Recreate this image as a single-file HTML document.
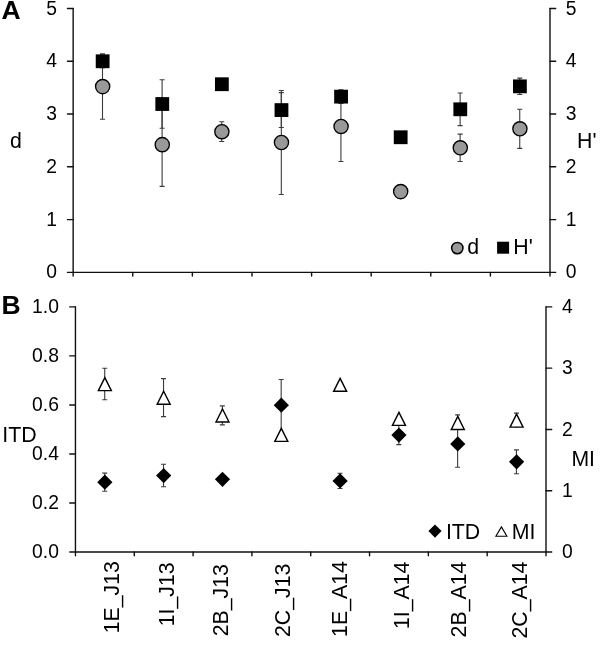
<!DOCTYPE html>
<html lang="en"><head><meta charset="utf-8"><title>Figure</title>
<style>html,body{margin:0;padding:0;background:#fff}svg{display:block}text{font-family:"Liberation Sans", sans-serif;fill:#000}</style>
</head><body>
<svg width="600" height="645" viewBox="0 0 600 645">
<rect width="600" height="645" fill="#fff"/>
<g stroke="#111" stroke-width="1.4" fill="none" stroke-linecap="round" stroke-linejoin="round">
<path d="M73.15 8.50V272.35M550.0 8.50V272.35M67.45 272.35H555.70"/>
<path d="M67.45 219.58H73.15M550.0 219.58H555.70M67.45 166.81H73.15M550.0 166.81H555.70M67.45 114.04H73.15M550.0 114.04H555.70M67.45 61.27H73.15M550.0 61.27H555.70M67.45 8.50H73.15M550.0 8.50H555.70M73.15 272.35V276.05M132.76 272.35V276.05M192.36 272.35V276.05M251.97 272.35V276.05M311.58 272.35V276.05M371.18 272.35V276.05M430.79 272.35V276.05M490.39 272.35V276.05M550.00 272.35V276.05"/>
</g>
<g font-size="19.3">
<text x="56.9" y="278.45" text-anchor="end">0</text>
<text x="565.8" y="278.45">0</text>
<text x="56.9" y="225.68" text-anchor="end">1</text>
<text x="565.8" y="225.68">1</text>
<text x="56.9" y="172.91" text-anchor="end">2</text>
<text x="565.8" y="172.91">2</text>
<text x="56.9" y="120.14" text-anchor="end">3</text>
<text x="565.8" y="120.14">3</text>
<text x="56.9" y="67.37" text-anchor="end">4</text>
<text x="565.8" y="67.37">4</text>
<text x="56.9" y="14.60" text-anchor="end">5</text>
<text x="565.8" y="14.60">5</text>
</g>
<text x="1.6" y="18.9" font-size="26.5" font-weight="bold">A</text>
<text x="10.1" y="147.8" font-size="21.3">d</text>
<text x="577.0" y="147.7" font-size="21.3">H'</text>
<path d="M102.50 53.88V119.32M100.00 53.88H105.00M100.00 119.32H105.00" stroke="#3c3c3c" stroke-width="1.1" fill="none"/>
<path d="M102.50 54.94V67.60M100.00 54.94H105.00M100.00 67.60H105.00" stroke="#3c3c3c" stroke-width="1.1" fill="none"/>
<path d="M162.11 102.96V186.33M159.61 102.96H164.61M159.61 186.33H164.61" stroke="#3c3c3c" stroke-width="1.1" fill="none"/>
<path d="M162.11 79.74V128.29M159.61 79.74H164.61M159.61 128.29H164.61" stroke="#3c3c3c" stroke-width="1.1" fill="none"/>
<path d="M221.72 121.80V141.53M219.22 121.80H224.22M219.22 141.53H224.22" stroke="#3c3c3c" stroke-width="1.1" fill="none"/>
<path d="M281.32 90.56V194.51M278.82 90.56H283.82M278.82 194.51H283.82" stroke="#3c3c3c" stroke-width="1.1" fill="none"/>
<path d="M281.32 92.67V127.50M278.82 92.67H283.82M278.82 127.50H283.82" stroke="#3c3c3c" stroke-width="1.1" fill="none"/>
<path d="M340.93 91.45V161.43M338.43 91.45H343.43M338.43 161.43H343.43" stroke="#3c3c3c" stroke-width="1.1" fill="none"/>
<path d="M340.93 89.77V103.49M338.43 89.77H343.43M338.43 103.49H343.43" stroke="#3c3c3c" stroke-width="1.1" fill="none"/>
<path d="M460.14 134.09V161.53M457.64 134.09H462.64M457.64 161.53H462.64" stroke="#3c3c3c" stroke-width="1.1" fill="none"/>
<path d="M460.14 92.93V125.65M457.64 92.93H462.64M457.64 125.65H462.64" stroke="#3c3c3c" stroke-width="1.1" fill="none"/>
<path d="M519.75 109.29V148.34M517.25 109.29H522.25M517.25 148.34H522.25" stroke="#3c3c3c" stroke-width="1.1" fill="none"/>
<path d="M519.75 78.16V94.52M517.25 78.16H522.25M517.25 94.52H522.25" stroke="#3c3c3c" stroke-width="1.1" fill="none"/>
<circle cx="102.65" cy="86.60" r="7.1" fill="#999" stroke="#000" stroke-width="1.35"/>
<rect x="95.75" y="54.37" width="13.8" height="13.8" fill="#000"/>
<circle cx="162.26" cy="144.65" r="7.1" fill="#999" stroke="#000" stroke-width="1.35"/>
<rect x="155.36" y="97.11" width="13.8" height="13.8" fill="#000"/>
<circle cx="221.87" cy="131.67" r="7.1" fill="#999" stroke="#000" stroke-width="1.35"/>
<rect x="214.97" y="77.32" width="13.8" height="13.8" fill="#000"/>
<circle cx="281.47" cy="142.54" r="7.1" fill="#999" stroke="#000" stroke-width="1.35"/>
<rect x="274.57" y="103.18" width="13.8" height="13.8" fill="#000"/>
<circle cx="341.08" cy="126.44" r="7.1" fill="#999" stroke="#000" stroke-width="1.35"/>
<rect x="334.18" y="89.73" width="13.8" height="13.8" fill="#000"/>
<circle cx="400.68" cy="191.61" r="7.1" fill="#999" stroke="#000" stroke-width="1.35"/>
<rect x="393.78" y="130.36" width="13.8" height="13.8" fill="#000"/>
<circle cx="460.29" cy="147.81" r="7.1" fill="#999" stroke="#000" stroke-width="1.35"/>
<rect x="453.39" y="102.39" width="13.8" height="13.8" fill="#000"/>
<circle cx="519.90" cy="128.82" r="7.1" fill="#999" stroke="#000" stroke-width="1.35"/>
<rect x="513.00" y="79.44" width="13.8" height="13.8" fill="#000"/>
<circle cx="457.3" cy="248.1" r="5.7" fill="#999" stroke="#000" stroke-width="1.5"/>
<text x="467.3" y="254.3" font-size="21.3">d</text>
<rect x="497.1" y="241.7" width="12.0" height="12.0" fill="#000"/>
<text x="513.3" y="254.3" font-size="21.3">H'</text>
<g stroke="#111" stroke-width="1.4" fill="none" stroke-linecap="round" stroke-linejoin="round">
<path d="M75.45 306.90V552.00M546.0 306.90V552.00M69.75 552.0H551.70"/>
<path d="M69.75 502.98H75.45M69.75 453.96H75.45M69.75 404.94H75.45M69.75 355.92H75.45M69.75 306.90H75.45M546.0 490.73H551.70M546.0 429.45H551.70M546.0 368.17H551.70M546.0 306.90H551.70M75.45 552.0V555.70M134.27 552.0V555.70M193.09 552.0V555.70M251.91 552.0V555.70M310.73 552.0V555.70M369.54 552.0V555.70M428.36 552.0V555.70M487.18 552.0V555.70M546.00 552.0V555.70"/>
</g>
<g font-size="19.3">
<text x="58.9" y="558.10" text-anchor="end">0.0</text>
<text x="58.9" y="509.08" text-anchor="end">0.2</text>
<text x="58.9" y="460.06" text-anchor="end">0.4</text>
<text x="58.9" y="411.04" text-anchor="end">0.6</text>
<text x="58.9" y="362.02" text-anchor="end">0.8</text>
<text x="58.9" y="313.00" text-anchor="end">1.0</text>
<text x="562.0" y="558.10">0</text>
<text x="562.0" y="496.83">1</text>
<text x="562.0" y="435.55">2</text>
<text x="562.0" y="374.27">3</text>
<text x="562.0" y="313.00">4</text>
</g>
<text x="1.5" y="313.7" font-size="26.5" font-weight="bold">B</text>
<text x="2.3" y="441.6" font-size="21.4">ITD</text>
<text x="571.4" y="465.5" font-size="21.2">MI</text>
<path d="M104.71 368.24V399.73M102.21 368.24H107.21M102.21 399.73H107.21" stroke="#3c3c3c" stroke-width="1.1" fill="none"/>
<path d="M104.71 473.08V491.22M102.21 473.08H107.21M102.21 491.22H107.21" stroke="#3c3c3c" stroke-width="1.1" fill="none"/>
<path d="M163.53 378.59V416.58M161.03 378.59H166.03M161.03 416.58H166.03" stroke="#3c3c3c" stroke-width="1.1" fill="none"/>
<path d="M163.53 464.25V486.80M161.03 464.25H166.03M161.03 486.80H166.03" stroke="#3c3c3c" stroke-width="1.1" fill="none"/>
<path d="M222.35 405.86V424.85M219.85 405.86H224.85M219.85 424.85H224.85" stroke="#3c3c3c" stroke-width="1.1" fill="none"/>
<path d="M281.17 379.45V430.92M278.67 379.45H283.67" stroke="#3c3c3c" stroke-width="1.1" fill="none"/>
<path d="M339.98 473.32V488.52M337.48 473.32H342.48M337.48 488.52H342.48" stroke="#3c3c3c" stroke-width="1.1" fill="none"/>
<path d="M398.80 425.53V444.65M396.30 425.53H401.30M396.30 444.65H401.30" stroke="#3c3c3c" stroke-width="1.1" fill="none"/>
<path d="M457.62 414.87V430.80M455.12 414.87H460.12" stroke="#3c3c3c" stroke-width="1.1" fill="none"/>
<path d="M457.62 420.63V467.20M455.12 467.20H460.12" stroke="#3c3c3c" stroke-width="1.1" fill="none"/>
<path d="M516.44 413.15V427.86M513.94 413.15H518.94" stroke="#3c3c3c" stroke-width="1.1" fill="none"/>
<path d="M516.44 449.92V473.69M513.94 449.92H518.94M513.94 473.69H518.94" stroke="#3c3c3c" stroke-width="1.1" fill="none"/>
<path d="M104.86 377.58L111.36 390.58H98.36Z" fill="#fff" stroke="#000" stroke-width="1.4" stroke-linejoin="miter"/>
<path d="M163.68 391.19L170.18 404.19H157.18Z" fill="#fff" stroke="#000" stroke-width="1.4" stroke-linejoin="miter"/>
<path d="M222.50 408.96L229.00 421.96H216.00Z" fill="#fff" stroke="#000" stroke-width="1.4" stroke-linejoin="miter"/>
<path d="M281.32 428.38L287.82 441.38H274.82Z" fill="#fff" stroke="#000" stroke-width="1.4" stroke-linejoin="miter"/>
<path d="M340.13 378.32L346.63 391.32H333.63Z" fill="#fff" stroke="#000" stroke-width="1.4" stroke-linejoin="miter"/>
<path d="M398.95 412.39L405.45 425.39H392.45Z" fill="#fff" stroke="#000" stroke-width="1.4" stroke-linejoin="miter"/>
<path d="M457.77 416.43L464.27 429.43H451.27Z" fill="#fff" stroke="#000" stroke-width="1.4" stroke-linejoin="miter"/>
<path d="M516.59 414.10L523.09 427.10H510.09Z" fill="#fff" stroke="#000" stroke-width="1.4" stroke-linejoin="miter"/>
<path d="M104.86 474.55L112.46 482.15L104.86 489.75L97.26 482.15Z" fill="#000"/>
<path d="M163.68 467.93L171.28 475.53L163.68 483.13L156.08 475.53Z" fill="#000"/>
<path d="M222.50 471.70L230.10 479.30L222.50 486.90L214.90 479.30Z" fill="#000"/>
<path d="M281.32 397.59L288.92 405.19L281.32 412.79L273.72 405.19Z" fill="#000"/>
<path d="M340.13 473.32L347.73 480.92L340.13 488.52L332.53 480.92Z" fill="#000"/>
<path d="M398.95 427.49L406.55 435.09L398.95 442.69L391.35 435.09Z" fill="#000"/>
<path d="M457.77 436.31L465.37 443.91L457.77 451.51L450.17 443.91Z" fill="#000"/>
<path d="M516.59 454.20L524.19 461.80L516.59 469.40L508.99 461.80Z" fill="#000"/>
<path d="M435.0 524.5L441.6 531.1L435.0 537.7L428.4 531.1Z" fill="#000"/>
<text x="445.9" y="538.5" font-size="21.3">ITD</text>
<path d="M501.4 526.9L506.9 536.3H495.9Z" fill="#fff" stroke="#000" stroke-width="1.1"/>
<text x="511.8" y="538.5" font-size="21.3">MI</text>
<text transform="translate(119.20 561.10) rotate(-90)" text-anchor="end" font-size="21.3">1E_J13</text>
<text transform="translate(174.20 562.35) rotate(-90)" text-anchor="end" font-size="21.3">1I_J13</text>
<text transform="translate(228.40 564.10) rotate(-90)" text-anchor="end" font-size="21.3">2B_J13</text>
<text transform="translate(290.10 563.60) rotate(-90)" text-anchor="end" font-size="21.3">2C_J13</text>
<text transform="translate(347.10 561.10) rotate(-90)" text-anchor="end" font-size="21.3">1E_A14</text>
<text transform="translate(409.10 561.60) rotate(-90)" text-anchor="end" font-size="21.3">1I_A14</text>
<text transform="translate(466.40 561.60) rotate(-90)" text-anchor="end" font-size="21.3">2B_A14</text>
<text transform="translate(527.10 561.60) rotate(-90)" text-anchor="end" font-size="21.3">2C_A14</text>
</svg>
</body></html>
